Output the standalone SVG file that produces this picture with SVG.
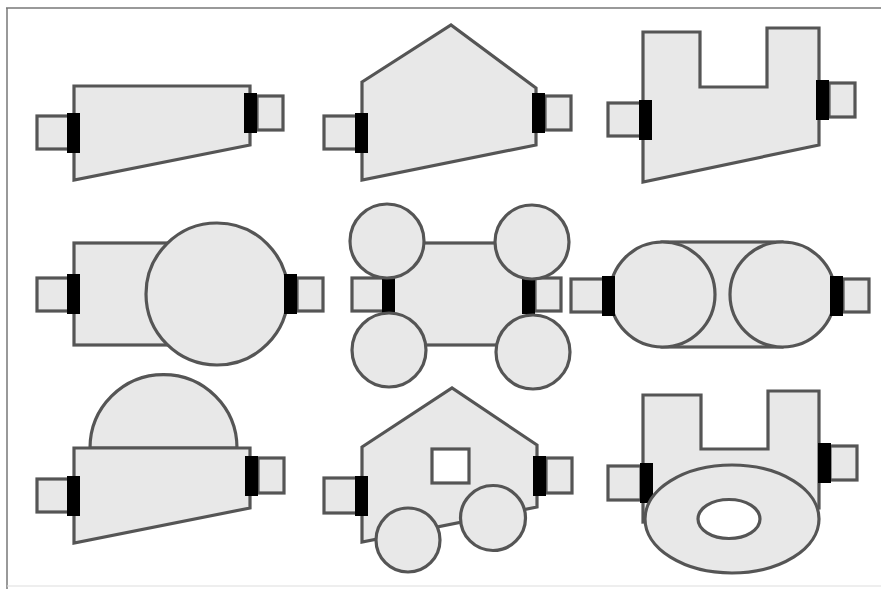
<svg xmlns="http://www.w3.org/2000/svg" width="881" height="589" viewBox="0 0 881 589">
  <style>
    .body { fill: #e8e8e8; stroke: #555; stroke-width: 3.2; stroke-linejoin: miter; }
    .hole { fill: #ffffff; stroke: #555; stroke-width: 3.2; }
    .plug { fill: #e8e8e8; stroke: #555; stroke-width: 3.2; }
    .seal { fill: #000; }
    .frame { stroke: #777; stroke-width: 1.5; fill: none; }
  </style>
  <rect width="881" height="589" fill="#ffffff"/>

  <!-- page frame -->
  <g id="frame">
    <line class="frame" x1="6" y1="8" x2="881" y2="8"/>
    <line class="frame" x1="7" y1="8" x2="7" y2="589"/>
    <line x1="7" y1="586" x2="881" y2="586" stroke="#ddd" stroke-width="1"/>
  </g>

  <!-- row 1 -->
  <g id="taper">
    <rect class="plug" x="37" y="116" width="33" height="33"/>
    <rect class="plug" x="257" y="96" width="26" height="34"/>
    <polygon class="body" points="74,86 250,86 250,145 74,180"/>
    <rect class="seal" x="67" y="113" width="13" height="40"/>
    <rect class="seal" x="244" y="93" width="13" height="40"/>
  </g>

  <g id="pentagon">
    <rect class="plug" x="324" y="116" width="33" height="33"/>
    <rect class="plug" x="545" y="96" width="26" height="34"/>
    <polygon class="body" points="362,82 451,25 536,88 536,145 362,180"/>
    <rect class="seal" x="355" y="113" width="13" height="40"/>
    <rect class="seal" x="532" y="93" width="13" height="40"/>
  </g>

  <g id="notched">
    <rect class="plug" x="608" y="103" width="33" height="33"/>
    <rect class="plug" x="829" y="83" width="26" height="34"/>
    <polygon class="body" points="643,32 700,32 700,87 767,87 767,28 819,28 819,145 643,182"/>
    <rect class="seal" x="639" y="100" width="13" height="40"/>
    <rect class="seal" x="816" y="80" width="13" height="40"/>
  </g>

  <!-- row 2 -->
  <g id="drum">
    <rect class="plug" x="37" y="278" width="33" height="33"/>
    <rect class="plug" x="297" y="278" width="26" height="33"/>
    <rect class="body" x="74" y="243" width="110" height="102"/>
    <circle class="body" cx="217" cy="294" r="71"/>
    <rect class="seal" x="67" y="274" width="13" height="40"/>
    <rect class="seal" x="284" y="274" width="13" height="40"/>
  </g>

  <g id="quad">
    <rect class="plug" x="352" y="278" width="33" height="33"/>
    <rect class="plug" x="535" y="278" width="26" height="33"/>
    <rect class="body" x="387" y="243" width="146" height="102"/>
    <rect class="seal" x="382" y="274" width="13" height="40"/>
    <rect class="seal" x="522" y="274" width="13" height="40"/>
    <circle class="body" cx="387" cy="241" r="37"/>
    <circle class="body" cx="532" cy="242" r="37"/>
    <circle class="body" cx="389" cy="350" r="37"/>
    <circle class="body" cx="533" cy="352" r="37"/>
  </g>

  <g id="twin">
    <rect class="plug" x="571" y="279" width="33" height="33"/>
    <rect class="plug" x="843" y="279" width="26" height="33"/>
    <rect class="body" x="662" y="242" width="120" height="105"/>
    <circle class="body" cx="662.5" cy="294.5" r="52.5"/>
    <circle class="body" cx="782.5" cy="294.5" r="52.5"/>
    <rect class="seal" x="602" y="276" width="13" height="40"/>
    <rect class="seal" x="830" y="276" width="13" height="40"/>
  </g>

  <!-- row 3 -->
  <g id="domed">
    <rect class="plug" x="37" y="479" width="33" height="33"/>
    <rect class="plug" x="258" y="458" width="26" height="35"/>
    <path class="body" d="M90,448 A73.5,73.5 0 0 1 237,448 Z"/>
    <polygon class="body" points="74,448 250,448 250,508 74,543"/>
    <rect class="seal" x="67" y="476" width="13" height="40"/>
    <rect class="seal" x="245" y="456" width="13" height="40"/>
  </g>

  <g id="cart">
    <rect class="plug" x="324" y="478" width="33" height="35"/>
    <rect class="plug" x="546" y="458" width="26" height="35"/>
    <polygon class="body" points="362,447 452,388 537,445 537,507 362,542"/>
    <rect class="hole" x="432" y="449" width="37" height="34"/>
    <rect class="seal" x="355" y="476" width="13" height="40"/>
    <rect class="seal" x="533" y="456" width="13" height="40"/>
    <circle class="body" cx="408" cy="540" r="32"/>
    <circle class="body" cx="493" cy="518" r="32.5"/>
  </g>

  <g id="ring">
    <rect class="plug" x="608" y="466" width="33" height="34"/>
    <rect class="plug" x="830" y="446" width="27" height="34"/>
    <polygon class="body" points="643,395 701,395 701,449 768,449 768,391 819,391 819,508 643,522"/>
    <rect class="seal" x="640" y="463" width="13" height="40"/>
    <rect class="seal" x="818" y="443" width="13" height="40"/>
    <ellipse class="body" cx="732" cy="519" rx="87" ry="54"/>
    <ellipse class="hole" cx="729" cy="519" rx="31" ry="19.5"/>
  </g>
</svg>
